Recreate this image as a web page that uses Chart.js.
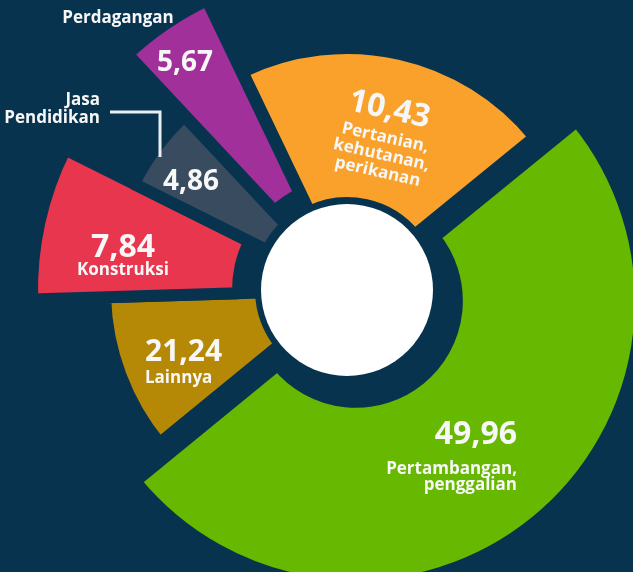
<!DOCTYPE html>
<html>
<head>
<meta charset="utf-8">
<script src="https://cdn.jsdelivr.net/npm/chart.js@4.4.0/dist/chart.umd.min.js"></script>
<style>
  html, body { margin: 0; padding: 0; background: #08334f; overflow: hidden; }
  #wadah { width: 633px; height: 572px; }
</style>
</head>
<body>
<div id="wadah"><canvas id="grafik"></canvas></div>
<script>
// Sektor, urut searah jarum jam mulai dari irisan oranye di atas
var sektor = ['Pertanian, kehutanan, perikanan', 'Pertambangan, penggalian', 'Lainnya', 'Konstruksi', 'Jasa Pendidikan', 'Perdagangan'];
// Angka yang tertulis pada tiap irisan (%)
var nilaiLabel = ['10,43', '49,96', '21,24', '7,84', '4,86', '5,67'];
// Besar sudut irisan seperti yang tergambar (di gambar asli dua pasang angka tertukar)
var porsiSudut = [21.24, 49.96, 10.43, 7.84, 5.67, 4.86];
// Baris nama sektor
var namaBaris = [['Pertanian,', 'kehutanan,', 'perikanan'], ['Pertambangan,', 'penggalian'], ['Lainnya'], ['Konstruksi'], ['Jasa', 'Pendidikan'], ['Perdagangan']];

var latar = '#08334f';
var warna = ['#f9a12b', '#66b800', '#b58806', '#e8364f', '#394c5f', '#a1309b'];

// ukuran tiap irisan (px)
var celah = 12;
var jariDalam = [93, 107, 92, 115, 95, 107];
var jariLuar = [236, 279, 236, 309, 232, 310];
var geser = [0, 14, 0, 0, 0, 6];
var jariTengah = 86;

var huruf = '"Open Sans", "Noto Sans", sans-serif';

// Mengatur jari-jari tiap irisan setelah Chart.js menghitungnya
var aturIrisan = {
  id: 'aturIrisan',
  afterDatasetsUpdate: function(chart) {
    var area = chart.chartArea;
    var cx = (area.left + area.right) / 2;
    var cy = (area.top + area.bottom) / 2;
    chart.getDatasetMeta(0).data.forEach(function(arc, i) {
      var tengah = (arc.startAngle + arc.endAngle) / 2;
      arc.x = cx + Math.cos(tengah) * geser[i];
      arc.y = cy + Math.sin(tengah) * geser[i];
      arc.innerRadius = jariDalam[i] - celah / 2;
      arc.outerRadius = jariLuar[i] + celah / 2;
    });
  }
};

function tulis(ctx, teks, x, y, ukuran, rata) {
  ctx.font = 'bold ' + ukuran + 'px ' + huruf;
  ctx.textAlign = rata;
  ctx.fillText(teks, x, y);
}

// Lingkaran putih di tengah, angka dan nama sektor
var labelIrisan = {
  id: 'labelIrisan',
  afterDatasetsDraw: function(chart) {
    var ctx = chart.ctx;
    var area = chart.chartArea;
    var cx = (area.left + area.right) / 2;
    var cy = (area.top + area.bottom) / 2;
    var arcs = chart.getDatasetMeta(0).data;

    ctx.save();
    ctx.fillStyle = '#ffffff';
    ctx.beginPath();
    ctx.arc(cx, cy, jariTengah, 0, Math.PI * 2);
    ctx.fill();

    ctx.fillStyle = '#f7f7f7';
    ctx.textBaseline = 'middle';

    // oranye: diputar mengikuti arah irisan
    var a = arcs[0];
    var sudut = (a.startAngle + a.endAngle) / 2;
    ctx.save();
    ctx.translate(cx + Math.cos(sudut) * 160, cy + Math.sin(sudut) * 160);
    ctx.rotate(sudut + Math.PI / 2);
    tulis(ctx, nilaiLabel[0], 2, -25, 32, 'center');
    namaBaris[0].forEach(function(b, k) { tulis(ctx, b, 4, 3 + k * 17.5, 17, 'center'); });
    ctx.restore();

    // hijau
    tulis(ctx, nilaiLabel[1], cx + 170, cy + 145, 32, 'right');
    namaBaris[1].forEach(function(b, k) { tulis(ctx, b, cx + 170, cy + 179 + k * 16.5, 17, 'right'); });

    // lainnya
    tulis(ctx, nilaiLabel[2], cx - 202, cy + 62, 30, 'left');
    tulis(ctx, namaBaris[2][0], cx - 202, cy + 88, 17, 'left');

    // konstruksi
    tulis(ctx, nilaiLabel[3], cx - 224, cy - 42, 32, 'center');
    tulis(ctx, namaBaris[3][0], cx - 224, cy - 20, 17, 'center');

    // jasa pendidikan
    tulis(ctx, nilaiLabel[4], cx - 156, cy - 108, 28, 'center');
    tulis(ctx, namaBaris[4][0], cx - 247, cy - 190, 17, 'right');
    tulis(ctx, namaBaris[4][1], cx - 247, cy - 172, 17, 'right');
    ctx.strokeStyle = '#e8eef2';
    ctx.lineWidth = 3;
    ctx.beginPath();
    ctx.moveTo(cx - 237, cy - 178);
    ctx.lineTo(cx - 187, cy - 178);
    ctx.lineTo(cx - 187, cy - 133);
    ctx.stroke();

    // perdagangan
    tulis(ctx, nilaiLabel[5], cx - 162, cy - 227, 28, 'center');
    tulis(ctx, namaBaris[5][0], cx - 229, cy - 272, 17, 'center');
    ctx.restore();
  }
};

var grafik = new Chart(document.getElementById('grafik').getContext('2d'), {
  type: 'doughnut',
  data: {
    labels: sektor,
    datasets: [{
      data: porsiSudut,
      backgroundColor: warna,
      borderColor: latar,
      borderWidth: celah,
      hoverOffset: 0
    }]
  },
  options: {
    responsive: true,
    maintainAspectRatio: false,
    animation: false,
    events: [],
    rotation: -25.6,
    cutout: '40%',
    layout: { padding: { left: 61, top: 8, right: 0, bottom: 0 } },
    plugins: {
      legend: { display: false },
      tooltip: { enabled: false }
    }
  },
  plugins: [aturIrisan, labelIrisan]
});
</script>
</body>
</html>
